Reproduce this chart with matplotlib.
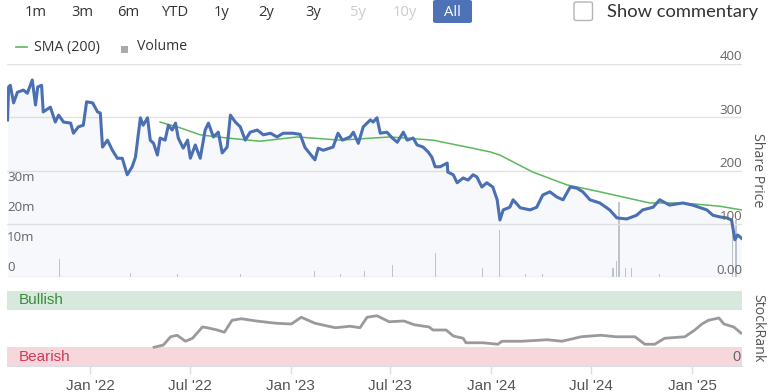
import matplotlib
matplotlib.use('Agg')
import matplotlib.pyplot as plt
import matplotlib.transforms as mtransforms
from matplotlib.patches import FancyBboxPatch, Rectangle
from matplotlib.lines import Line2D
import pandas as pd

# ---------------- data ----------------
price_dates = [
    '2021-08-03', '2021-08-05', '2021-08-08', '2021-08-14', '2021-08-21', '2021-09-01', '2021-09-08',
    '2021-09-17', '2021-09-23', '2021-09-27', '2021-10-04', '2021-10-07', '2021-10-20', '2021-10-29',
    '2021-11-04', '2021-11-13', '2021-11-26', '2021-12-01', '2021-12-10', '2021-12-19', '2021-12-25',
    '2022-01-05', '2022-01-14', '2022-01-19', '2022-01-23', '2022-02-01', '2022-02-10', '2022-02-19',
    '2022-02-28', '2022-03-09', '2022-03-18', '2022-03-24', '2022-04-02', '2022-04-07', '2022-04-15',
    '2022-04-20', '2022-04-26', '2022-05-03', '2022-05-08', '2022-05-17', '2022-05-23', '2022-05-30',
    '2022-06-05', '2022-06-10', '2022-06-19', '2022-06-27', '2022-07-02', '2022-07-11', '2022-07-20',
    '2022-07-29', '2022-08-04', '2022-08-13', '2022-08-22', '2022-08-29', '2022-09-07', '2022-09-13',
    '2022-09-22', '2022-10-01', '2022-10-10', '2022-10-19', '2022-11-01', '2022-11-12', '2022-11-25',
    '2022-12-07', '2022-12-18', '2023-01-04', '2023-01-18', '2023-01-27', '2023-02-14', '2023-02-20',
    '2023-03-01', '2023-03-19', '2023-03-28', '2023-04-05', '2023-04-19', '2023-04-25', '2023-05-04',
    '2023-05-13', '2023-05-26', '2023-05-31', '2023-06-07', '2023-06-13', '2023-06-25', '2023-07-05',
    '2023-07-14', '2023-07-25', '2023-08-01', '2023-08-12', '2023-08-19', '2023-08-30', '2023-09-08',
    '2023-09-15', '2023-09-21', '2023-09-30', '2023-10-13', '2023-10-14', '2023-10-24', '2023-10-31',
    '2023-11-11', '2023-11-20', '2023-11-29', '2023-12-06', '2023-12-15', '2023-12-24', '2024-01-04',
    '2024-01-12', '2024-01-17', '2024-01-23', '2024-02-04', '2024-02-10', '2024-02-23', '2024-03-12',
    '2024-03-24', '2024-04-04', '2024-04-17', '2024-04-30', '2024-05-11', '2024-05-24', '2024-06-05',
    '2024-06-16', '2024-06-29', '2024-07-17', '2024-08-04', '2024-08-17', '2024-09-04', '2024-09-22',
    '2024-10-03', '2024-10-22', '2024-11-03', '2024-11-21', '2024-12-15', '2025-01-02', '2025-01-28',
    '2025-02-08', '2025-02-20', '2025-03-05', '2025-03-14', '2025-03-20', '2025-03-25', '2025-04-01',
]
price_values = [
    295, 357, 360, 327, 347, 351, 345,
    370, 323, 357, 360, 310, 319, 291,
    304, 291, 289, 270, 282, 285, 329,
    327, 310, 308, 244, 257, 238, 223,
    223, 192, 207, 225, 299, 285, 299,
    257, 251, 229, 261, 257, 285, 276,
    289, 261, 242, 257, 223, 248, 223,
    276, 289, 263, 272, 233, 244, 304,
    291, 282, 257, 272, 276, 267, 270,
    263, 270, 270, 268, 243, 220, 242,
    238, 244, 270, 257, 263, 272, 251,
    282, 295, 291, 299, 270, 272, 261,
    253, 272, 257, 261, 248, 244, 235,
    225, 207, 207, 214, 197, 192, 177,
    186, 182, 192, 188, 169, 177, 169,
    145, 107, 126, 131, 145, 130, 126,
    131, 154, 160, 150, 145, 169, 167,
    160, 145, 139, 126, 111, 109, 116,
    126, 131, 145, 135, 139, 135, 126,
    116, 113, 111, 107, 70, 79, 73,
]

sma_dates = [
    '2022-05-08', '2022-06-14', '2022-07-20', '2022-09-07', '2022-11-06', '2023-01-13', '2023-04-01',
    '2023-07-01', '2023-09-17', '2023-11-18', '2023-12-30', '2024-01-17', '2024-03-17', '2024-05-18',
    '2024-07-17', '2024-10-16', '2024-12-15', '2025-02-20', '2025-04-01',
]
sma_values = [291, 280, 267, 261, 255, 263, 257, 263, 257, 244, 235, 229, 197, 173, 160, 139, 139, 133, 126]

volume_dates = [
    '2021-11-06', '2022-03-15', '2022-06-08', '2022-10-01', '2023-02-14', '2023-04-01', '2023-05-16',
    '2023-07-05', '2023-09-21', '2023-12-17', '2024-01-17', '2024-03-03', '2024-04-04', '2024-08-10',
    '2024-08-17', '2024-08-21', '2024-09-01', '2024-09-13', '2024-11-03', '2025-03-16', '2025-03-22',
]
volume_millions = [6, 1.5, 1, 1, 2, 1, 2, 4, 8, 3, 15.7, 1, 1, 3, 5.5, 25, 3, 3, 1, 20, 19]

rank_dates = [
    '2022-04-27', '2022-05-14', '2022-05-27', '2022-06-08', '2022-06-23', '2022-07-06', '2022-07-24',
    '2022-08-02', '2022-08-20', '2022-09-02', '2022-09-16', '2022-10-03', '2022-10-30', '2022-12-05',
    '2023-01-02', '2023-01-20', '2023-02-14', '2023-03-23', '2023-04-19', '2023-05-07', '2023-05-20',
    '2023-06-07', '2023-06-29', '2023-07-26', '2023-08-14', '2023-09-10', '2023-09-17', '2023-10-11',
    '2023-10-24', '2023-11-11', '2023-11-16', '2023-12-17', '2024-01-13', '2024-01-21', '2024-02-26',
    '2024-04-12', '2024-05-09', '2024-06-13', '2024-07-19', '2024-08-15', '2024-09-19', '2024-10-07',
    '2024-10-25', '2024-11-12', '2024-12-19', '2025-01-06', '2025-01-19', '2025-01-31', '2025-02-19',
    '2025-02-28', '2025-03-18', '2025-03-31',
]
rank_values = [
    25, 28, 39, 41, 33, 37, 52,
    51, 48, 45, 61, 63, 60, 57,
    56, 65, 57, 51, 53, 51, 65,
    67, 59, 60, 55, 52, 48, 48,
    40, 37, 31, 31, 29, 33, 33,
    35, 33, 39, 41, 39, 39, 29,
    29, 37, 39, 48, 56, 61, 64,
    56, 52, 44,
]

range_buttons = ['1m', '3m', '6m', 'YTD', '1y', '2y', '3y', '5y', '10y', 'All']
disabled_buttons = ['5y', '10y']
selected_button = 'All'

price_ticks = [0, 100, 200, 300, 400]
price_tick_labels = ['0.00', '100', '200', '300', '400']
volume_ticks = [0, 10, 20, 30]
volume_tick_labels = ['0', '10m', '20m', '30m']
date_ticks = ['2022-01-01', '2022-07-01', '2023-01-01', '2023-07-01', '2024-01-01', '2024-07-01', '2025-01-01']
date_tick_labels = ["Jan '22", "Jul '22", "Jan '23", "Jul '23", "Jan '24", "Jul '24", "Jan '25"]
bearish_limit = 25
bullish_limit = 75
x_start, x_end = '2021-08-02', '2025-04-02'

# ---------------- figure ----------------
W, H = 770, 392
fig = plt.figure(figsize=(W / 100, H / 100), dpi=100)
fig.patch.set_facecolor('white')


def box(x0, y0, x1, y1):
    return [x0 / W, 1 - y1 / H, (x1 - x0) / W, (y1 - y0) / H]


def fx(x):
    return x / W


def fy(y):
    return 1 - y / H


SANS = ['Open Sans', 'DejaVu Sans']
NARROW = ['Liberation Sans Narrow', 'Liberation Sans', 'DejaVu Sans']
PRICE_BLUE = '#4a70b3'
SMA_GREEN = '#5cb85c'
LABEL_GREY = '#666666'

pd_price = pd.to_datetime(price_dates)
pd_sma = pd.to_datetime(sma_dates)
pd_vol = pd.to_datetime(volume_dates)
pd_rank = pd.to_datetime(rank_dates)
xlim = (pd.Timestamp(x_start), pd.Timestamp(x_end))

# --- volume axes (behind) ---
ax_v = fig.add_axes(box(7, 64, 742, 277))
ax_v.bar(pd_vol, volume_millions, width=2.0, color='#c4c6cc', linewidth=0)
ax_v.set_xlim(*xlim)
ax_v.set_ylim(0, 71)
for s in ax_v.spines.values():
    s.set_visible(False)
ax_v.set_xticks([])
ax_v.set_yticks([])
ax_v.set_zorder(1)

# --- price axes (front) ---
ax_p = fig.add_axes(box(7, 64, 742, 277))
ax_p.set_zorder(2)
ax_p.patch.set_visible(False)
ax_p.set_xlim(*xlim)
ax_p.set_ylim(0, 400)
for s in ax_p.spines.values():
    s.set_visible(False)
ax_p.set_xticks([])
ax_p.set_yticks(price_ticks)
ax_p.tick_params(axis='y', length=0, labelleft=False, labelright=False)
ax_p.grid(axis='y', color='#e3e3e3', linewidth=1)
ax_p.set_axisbelow(True)
ax_p.fill_between(pd_price, price_values, 0, color=PRICE_BLUE, alpha=0.045, linewidth=0)
ax_p.plot(pd_sma, sma_values, color=SMA_GREEN, linewidth=1.1, zorder=3)
ax_p.plot(pd_price, price_values, color=PRICE_BLUE, linewidth=2.2, zorder=4,
          solid_joinstyle='round')

# price labels (right, above grid lines)
tr_p = mtransforms.blended_transform_factory(ax_p.transAxes, ax_p.transData)
tr_p = mtransforms.offset_copy(tr_p, fig=fig, x=0, y=7, units='dots')
for v, lab in zip(price_ticks, price_tick_labels):
    ax_p.text(1.0, v, lab, transform=tr_p, ha='right', va='center',
              fontsize=9.6, color=LABEL_GREY, family=SANS, zorder=5)

# volume labels (left, inside)
tr_v = mtransforms.blended_transform_factory(ax_v.transAxes, ax_v.transData)
tr_v = mtransforms.offset_copy(tr_v, fig=fig, x=0, y=9.5, units='dots')
for v, lab in zip(volume_ticks, volume_tick_labels):
    ax_v.text(0.0, v, lab, transform=tr_v, ha='left', va='center',
              fontsize=9.6, color=LABEL_GREY, family=SANS)

fig.text(fx(757), fy(170), 'Share Price', rotation=-90, ha='center', va='center',
         fontsize=10.2, color='#555555', family=SANS)

# --- stockrank axes ---
ax_r = fig.add_axes(box(7, 291, 742, 366))
ax_r.set_xlim(*xlim)
ax_r.set_ylim(0, 100)
for k in ['left', 'right', 'top']:
    ax_r.spines[k].set_visible(False)
ax_r.spines['bottom'].set_color('#d8dde6')
ax_r.axhspan(bullish_limit, 100, color='#d6e9dc', linewidth=0, zorder=0)
ax_r.axhspan(0, bearish_limit, color='#f5d7dc', linewidth=0, zorder=0)
ax_r.axhline(100, color='#e3e3e3', linewidth=1, zorder=0.5)
ax_r.plot(pd_rank, rank_values, color='#9a9a9a', linewidth=2.0, zorder=3, solid_joinstyle='round')
ax_r.set_yticks([])
ax_r.set_xticks(pd.to_datetime(date_ticks))
ax_r.set_xticklabels(date_tick_labels)
ax_r.tick_params(axis='x', length=6, width=1, color='#d8dde6', pad=3,
                 labelsize=11, labelcolor='#555555')
for lab in ax_r.get_xticklabels():
    lab.set_family(NARROW)
ax_r.text(0.016, (bullish_limit + 100) / 2, 'Bullish', transform=ax_r.get_yaxis_transform(),
          ha='left', va='center', fontsize=11, color='#3d8b3d', family=NARROW)
ax_r.text(0.016, bearish_limit / 2, 'Bearish', transform=ax_r.get_yaxis_transform(),
          ha='left', va='center', fontsize=11, color='#d23a5a', family=NARROW)
ax_r.text(0.9975, bearish_limit / 2, '0', transform=ax_r.get_yaxis_transform(),
          ha='right', va='center', fontsize=10.5, color=LABEL_GREY, family=NARROW)
fig.text(fx(758), fy(328), 'StockRank', rotation=-90, ha='center', va='center',
         fontsize=10.2, color='#555555', family=SANS)

# --- range selector buttons ---
button_x = [36, 82, 128, 175, 222, 266, 313, 358, 405, 452]
for bx, lab in zip(button_x, range_buttons):
    color = '#333333'
    if lab in disabled_buttons:
        color = '#cccccc'
    if lab == selected_button:
        fig.patches.append(FancyBboxPatch((fx(433), fy(23)), (472 - 433) / W, 23 / H,
                                          boxstyle='round,pad=0,rounding_size=0.004',
                                          transform=fig.transFigure, facecolor='#4d73b6',
                                          edgecolor='none'))
        color = 'white'
    fig.text(fx(bx), fy(12), lab, ha='center', va='center', fontsize=10.6,
             color=color, family=SANS)

# checkbox + show commentary
fig.patches.append(FancyBboxPatch((fx(574), fy(20.5)), 18.5 / W, 18.5 / H,
                                  boxstyle='round,pad=0,rounding_size=0.004',
                                  transform=fig.transFigure, facecolor='white',
                                  edgecolor='#b5b5b5', linewidth=1))
fig.text(fx(607), fy(11.5), 'Show commentary', ha='left', va='center', fontsize=13.2,
         color='#333333', family=['Lato', 'DejaVu Sans'])

# --- legend ---
fig.lines.append(Line2D([fx(16), fx(27)], [fy(47), fy(47)], transform=fig.transFigure,
                        color=SMA_GREEN, linewidth=1.2))
fig.text(fx(34), fy(47), 'SMA (200)', ha='left', va='center', fontsize=10.2,
         color='#333333', family=SANS)
fig.patches.append(Rectangle((fx(121), fy(53)), 7 / W, 7 / H, transform=fig.transFigure,
                             facecolor='#aaaaaa', edgecolor='none'))
fig.text(fx(137), fy(47), 'Volume', ha='left', va='center', fontsize=10.2,
         color='#333333', family=SANS)

fig.savefig('out.png', dpi=100)
